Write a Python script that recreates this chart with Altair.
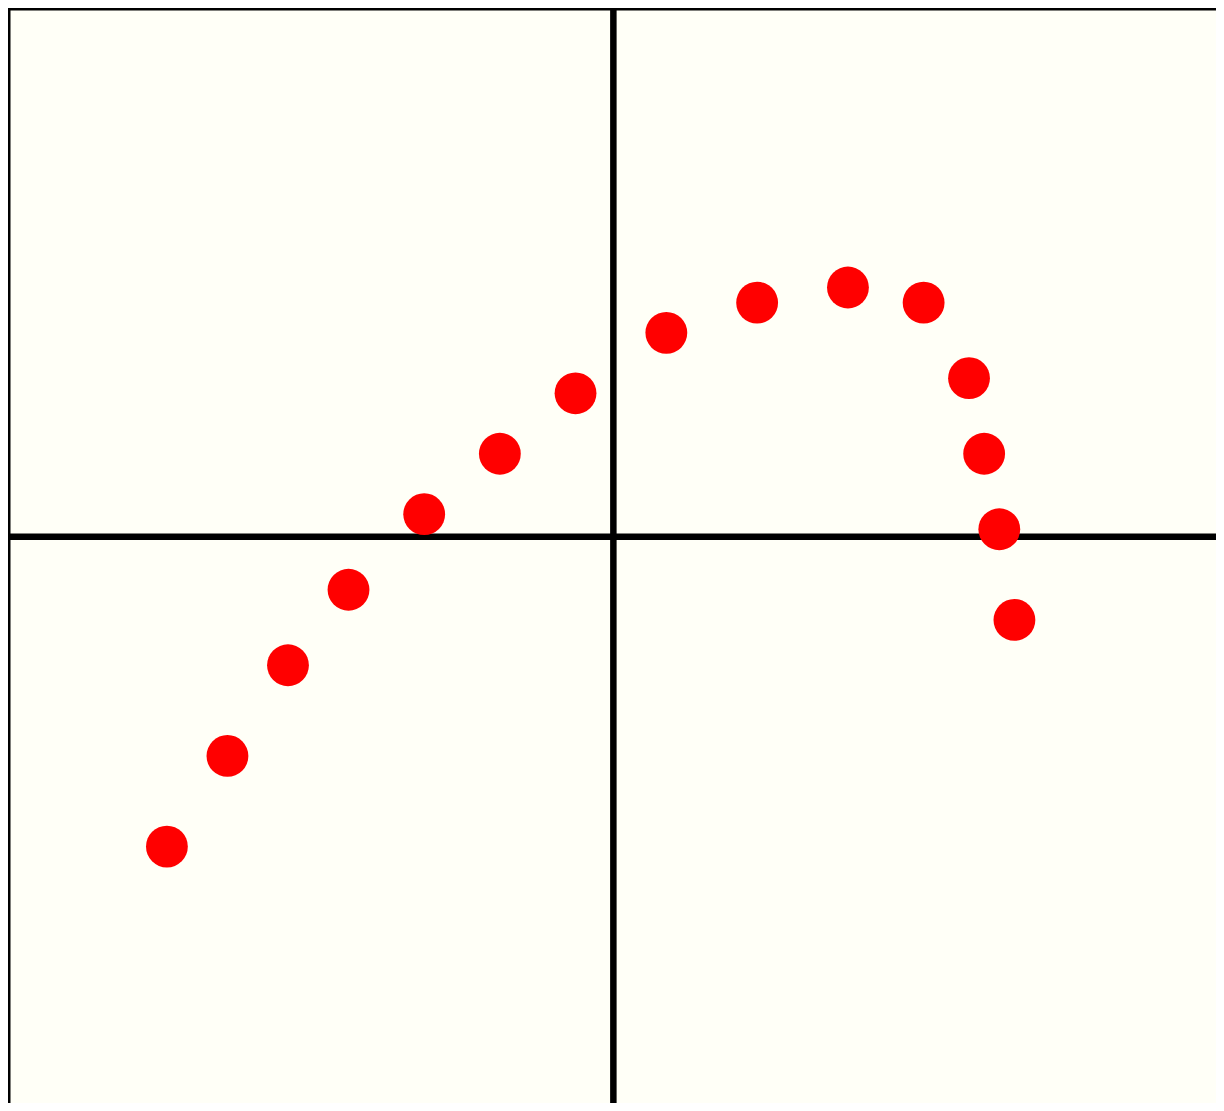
import altair as alt
import pandas as pd

# point coordinates (data units)
xs = [-29.5, -25.5, -21.5, -17.5, -12.5, -7.5, -2.5, 3.5, 9.5, 15.5, 20.5, 23.5, 24.5, 25.5, 26.5]
ys = [-20.5, -14.5, -8.5, -3.5, 1.5, 5.5, 9.5, 13.5, 15.5, 16.5, 15.5, 10.5, 5.5, 0.5, -5.5]

# reference lines
vline_x = [0]
hline_y = [0]

x_domain = [-40, 42]
y_domain = [-38, 35]

pts = pd.DataFrame({"x": xs, "y": ys})
vdf = pd.DataFrame({"x": vline_x})
hdf = pd.DataFrame({"y": hline_y})

xscale = alt.Scale(domain=x_domain, nice=False, zero=False)
yscale = alt.Scale(domain=y_domain, nice=False, zero=False)

vrule = alt.Chart(vdf).mark_rule(color="black", strokeWidth=6.5).encode(
    x=alt.X("x:Q", scale=xscale, axis=None)
)
hrule = alt.Chart(hdf).mark_rule(color="black", strokeWidth=6.5).encode(
    y=alt.Y("y:Q", scale=yscale, axis=None)
)
points = alt.Chart(pts).mark_circle(color="#ff0000", opacity=1, size=1750).encode(
    x=alt.X("x:Q", scale=xscale, axis=None),
    y=alt.Y("y:Q", scale=yscale, axis=None),
)

chart = (
    alt.layer(vrule, hrule, points)
    .properties(
        width=1241,
        height=1103,
        background="#FFFFF7",
        autosize=alt.AutoSizeParams(type="none"),
        padding={"left": 0, "top": 0, "right": -33, "bottom": -8},
    )
    .configure_view(stroke="black", strokeWidth=5, fill="#FFFFF7")
)

chart.save("out.html", embed_options={"renderer": "svg", "actions": False})
